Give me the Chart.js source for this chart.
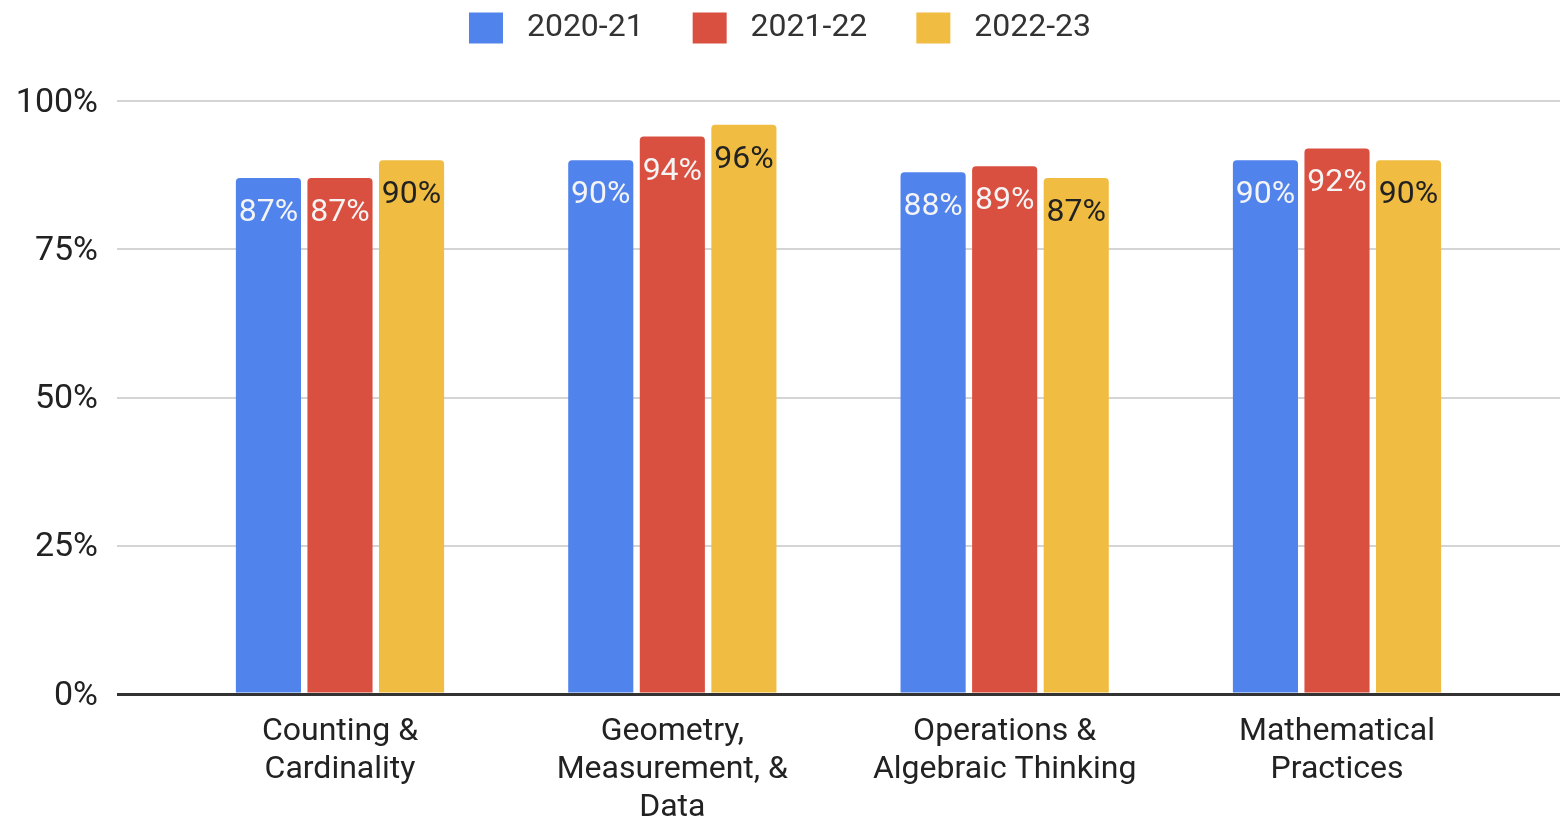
<!DOCTYPE html>
<html>
<head>
<meta charset="utf-8">
<title>Math strands 2020-23</title>
<script src="https://cdn.jsdelivr.net/npm/chart.js@4.4.1/dist/chart.umd.min.js"></script>
<style>
  html, body { margin: 0; padding: 0; background: #fff; }
  .chart-box { width: 1564px; height: 822px; }
</style>
</head>
<body>
<div class="chart-box"><canvas id="myBarChart"></canvas></div>
<script>
// categories (one array per label line)
const categories = [
    ['Counting &', 'Cardinality'],
    ['Geometry,', 'Measurement, &', 'Data'],
    ['Operations &', 'Algebraic Thinking'],
    ['Mathematical', 'Practices']
];
const seriesNames = ['2020-21', '2021-22', '2022-23'];
const values2021 = [87, 90, 88, 90];
const values2122 = [87, 94, 89, 92];
const values2223 = [90, 96, 87, 90];
const yTicks = [0, 25, 50, 75, 100];

const colors = ['#5083ec', '#d95040', '#f0bd42'];
const labelColors = ['#f4f4f4', '#f4f4f4', '#222222'];
const FONT = 'Roboto, "Liberation Sans", Arial, sans-serif';

// data labels inside the top of each bar
const barLabels = {
    id: 'barLabels',
    afterDatasetsDraw(chart) {
        const ctx = chart.ctx;
        ctx.save();
        ctx.font = '32px ' + FONT;
        ctx.textAlign = 'center';
        ctx.textBaseline = 'middle';
        chart.data.datasets.forEach((ds, i) => {
            const meta = chart.getDatasetMeta(i);
            ctx.fillStyle = labelColors[i];
            meta.data.forEach((bar, j) => {
                ctx.fillText(ds.data[j].y + '%', bar.x, bar.y + 35);
            });
        });
        ctx.restore();
    }
};

// fixed legend band height so the plot starts where the reference does
const legendHeight = {
    id: 'legendHeight',
    beforeInit(chart) {
        const fit = chart.legend.fit;
        chart.legend.fit = function() {
            fit.call(this);
            this.height = 138;
        };
    }
};

function points(vals) {
    return vals.map((v, i) => ({ x: i, y: v }));
}

const ctxBar = document.getElementById('myBarChart').getContext('2d');
const myBarChart = new Chart(ctxBar, {
    type: 'bar',
    data: {
        datasets: [values2021, values2122, values2223].map((vals, i) => ({
            label: seriesNames[i],
            data: points(vals),
            backgroundColor: colors[i],
            borderRadius: { topLeft: 4, topRight: 4 },
            borderSkipped: 'start',
            categoryPercentage: 0.646,
            barPercentage: 0.91
        }))
    },
    options: {
        responsive: true,
        maintainAspectRatio: false,
        animation: false,
        layout: { padding: { top: -37, left: 0, right: 4, bottom: 0 } },
        plugins: {
            tooltip: { enabled: false },
            legend: {
                position: 'top',
                labels: {
                    boxWidth: 34,
                    boxHeight: 31,
                    padding: 49,
                    color: '#333',
                    font: { family: FONT, size: 32 },
                    generateLabels(chart) {
                        const items = Chart.defaults.plugins.legend.labels.generateLabels(chart);
                        items.forEach(it => { it.text = ' ' + it.text; it.lineWidth = 0; });
                        return items;
                    }
                }
            }
        },
        scales: {
            x: {
                type: 'linear',
                min: -0.671,
                max: 3.671,
                offset: false,
                bounds: 'data',
                grid: { display: false, drawTicks: false, offset: false },
                border: { display: false },
                afterBuildTicks(scale) {
                    scale.ticks = categories.map((c, i) => ({ value: i }));
                },
                afterFit(scale) {
                    scale.height = 128;
                },
                ticks: {
                    autoSkip: false,
                    maxRotation: 0,
                    minRotation: 0,
                    padding: 19,
                    color: '#222',
                    font: { family: FONT, size: 32, lineHeight: 1.19 },
                    callback: (value) => categories[value]
                }
            },
            y: {
                min: 0,
                max: 100,
                afterBuildTicks(scale) {
                    scale.ticks = yTicks.map(v => ({ value: v }));
                },
                afterFit(scale) {
                    scale.width = 117;
                },
                border: { display: false },
                grid: {
                    drawTicks: false,
                    color: (c) => c.tick && c.tick.value === 0 ? '#333' : '#d4d4d4',
                    lineWidth: (c) => c.tick && c.tick.value === 0 ? 3 : 2
                },
                ticks: {
                    padding: 19,
                    labelOffset: 2,
                    color: '#222',
                    font: { family: FONT, size: 34 },
                    callback: (value) => value + '%'
                }
            }
        }
    },
    plugins: [barLabels, legendHeight]
});
</script>
</body>
</html>
